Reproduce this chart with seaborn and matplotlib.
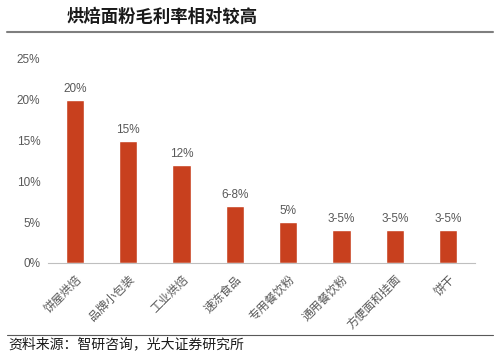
import matplotlib
matplotlib.use("Agg")
import matplotlib.pyplot as plt
import seaborn as sns
import pandas as pd
from matplotlib.lines import Line2D

categories = ["饼屋烘焙", "品牌小包装", "工业烘焙", "速冻食品", "专用餐饮粉", "通用餐饮粉", "方便面和挂面", "饼干"]
values = [20, 15, 12, 7, 5, 4, 4, 4]
labels = ["20%", "15%", "12%", "6-8%", "5%", "3-5%", "3-5%", "3-5%"]
yticks = [0, 5, 10, 15, 20, 25]
title = "烘焙面粉毛利率相对较高"
source = "资料来源：智研咨询，光大证券研究所"

sns.set_theme(style="white")
plt.rcParams['font.family'] = ['Noto Sans CJK SC', 'DejaVu Sans']
num_font = ['Liberation Sans', 'DejaVu Sans']

df = pd.DataFrame({"cat": categories, "val": values})

fig = plt.figure(figsize=(5, 3.53), dpi=100)
ax = fig.add_axes([0.096, 0.255, 0.854, 0.578])
sns.barplot(data=df, x="cat", y="val", color="#C8401E", width=0.34, ax=ax, saturation=1)

ax.set_xlim(-0.5, 7.5)
ax.set_ylim(0, 25)
ax.set_yticks(yticks)
ax.set_yticklabels([f"{t}%" for t in yticks], fontsize=8.5, color="#595959", family=num_font)
ax.set_xlabel("")
ax.set_ylabel("")
ax.set_xticks(range(len(categories)))
ax.set_xticklabels(categories, rotation=45, ha="right", rotation_mode="anchor", fontsize=8.5, color="#595959")
ax.tick_params(axis="x", length=0, pad=7)
ax.tick_params(axis="y", length=0, pad=5.5)
ax.set_xticks([i - 0.5 for i in range(len(categories) + 1)], minor=True)
ax.tick_params(axis="x", which="minor", length=3, color="#BFBFBF", width=0.8)

for s in ["top", "right", "left"]:
    ax.spines[s].set_visible(False)
ax.spines["bottom"].set_color("#BFBFBF")
ax.spines["bottom"].set_linewidth(0.8)

for i, (v, lab) in enumerate(zip(values, labels)):
    ax.text(i, v + 0.6, lab, ha="center", va="bottom", fontsize=8.5, color="#595959", family=num_font)

fig.text(0.134, 0.952, title, fontsize=12.5, fontweight="bold", color="#1a1a1a", va="center", ha="left")
fig.add_artist(Line2D([0.014, 0.986], [0.908, 0.908], transform=fig.transFigure, color="#7f7f7f", linewidth=1.5))
fig.add_artist(Line2D([0.014, 0.986], [0.051, 0.051], transform=fig.transFigure, color="#595959", linewidth=0.8))
fig.text(0.016, 0.026, source, fontsize=10, color="#1a1a1a", va="center", ha="left")

fig.savefig("out.png", dpi=100)
